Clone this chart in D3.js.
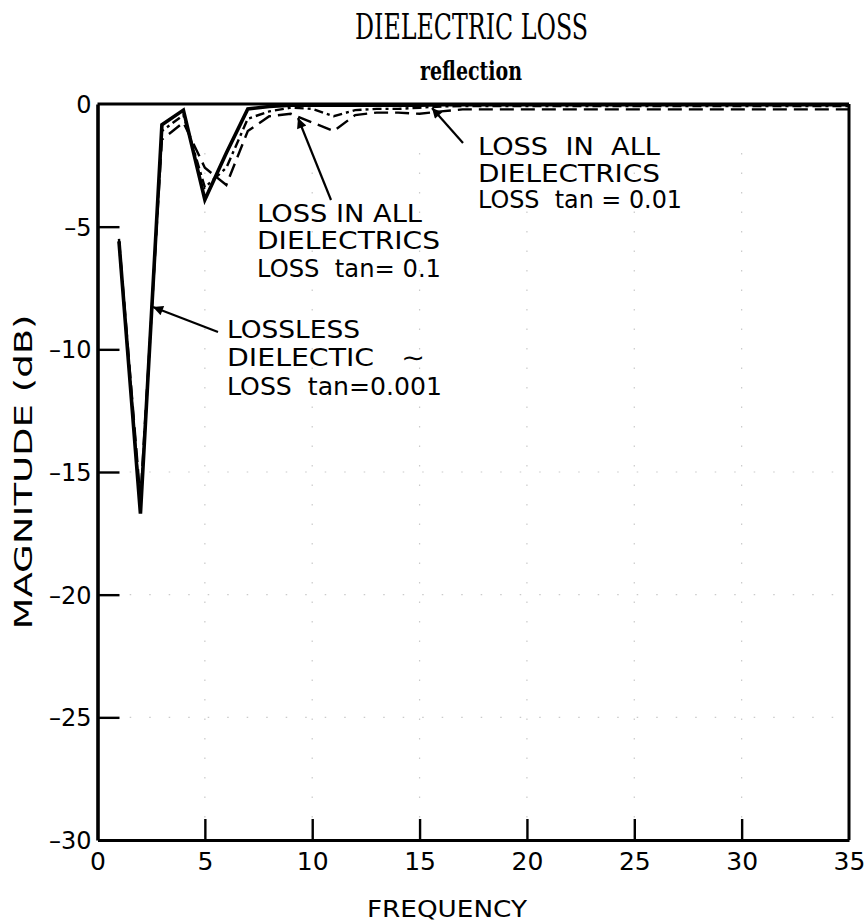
<!DOCTYPE html>
<html>
<head>
<meta charset="utf-8">
<script src="https://cdn.jsdelivr.net/npm/d3@7"></script>
<style>
  html, body { margin: 0; padding: 0; background: #fff; }
  svg { display: block; }
</style>
</head>
<body>
<svg id="chart" width="866" height="924"></svg>
<script>
// ---- data ----
const frequency = [1,2,3,4,5,6,7,8,9,10,11,12,13,14,15,16,17,18,19,20,21,22,23,24,25,26,27,28,29,30,31,32,33,34,35];
const losslessTan0001 = [-5.6,-16.7,-0.85,-0.25,-3.9,-2.0,-0.2,-0.1,-0.05,-0.05,-0.05,-0.05,-0.05,-0.05,-0.05,-0.03,-0.03,-0.03,-0.03,-0.03,-0.03,-0.03,-0.03,-0.03,-0.03,-0.03,-0.03,-0.03,-0.03,-0.03,-0.03,-0.03,-0.03,-0.03,-0.03];
const lossTan001 = [-5.6,-16.5,-1.1,-0.45,-3.4,-2.6,-0.6,-0.3,-0.15,-0.2,-0.5,-0.25,-0.2,-0.2,-0.15,-0.1,-0.08,-0.08,-0.08,-0.08,-0.08,-0.08,-0.08,-0.08,-0.08,-0.08,-0.08,-0.08,-0.08,-0.08,-0.08,-0.08,-0.08,-0.08,-0.08];
const lossTan01 = [-5.5,-16.1,-1.45,-0.75,-2.6,-3.3,-1.1,-0.5,-0.4,-0.75,-1.1,-0.45,-0.35,-0.35,-0.4,-0.3,-0.22,-0.22,-0.22,-0.22,-0.22,-0.22,-0.22,-0.22,-0.22,-0.22,-0.22,-0.22,-0.22,-0.22,-0.22,-0.22,-0.22,-0.22,-0.22];
const xTicks = [0,5,10,15,20,25,30,35];
const yTicks = [0,-5,-10,-15,-20,-25,-30];
const titleText = "DIELECTRIC LOSS";
const subtitleText = "reflection";
const xLabel = "FREQUENCY";
const yLabel = "MAGNITUDE (dB)";
const noteTan01 = ["LOSS IN ALL", "DIELECTRICS", "LOSS  tan= 0.1"];
const noteTan001 = ["LOSS  IN  ALL", "DIELECTRICS", "LOSS  tan = 0.01"];
const noteLossless = ["LOSSLESS", "DIELECTIC   \u223C", "LOSS  tan=0.001"];

// ---- layout ----
const svg = d3.select("#chart");
const L = 97.5, R = 849, T = 104, B = 840;
const x = d3.scaleLinear().domain([0, 35]).range([L, R]);
const y = d3.scaleLinear().domain([0, -30]).range([T, B]);
const ink = "#000";
const sans = "'DejaVu Sans', 'Noto Sans', sans-serif";

// faint dotted grid (scan residue)
const grid = svg.append("g").attr("stroke", "#a8a8a8").attr("stroke-width", 1.2)
  .attr("stroke-dasharray", "1.5,18").attr("opacity", 0.6);
xTicks.slice(1, -1).forEach(t => grid.append("line")
  .attr("x1", x(t)).attr("x2", x(t)).attr("y1", y(-2)).attr("y2", y(-30)));
yTicks.slice(3, -1).forEach(t => grid.append("line")
  .attr("x1", x(1.5)).attr("x2", x(35)).attr("y1", y(t)).attr("y2", y(t)));

// axes
const xAxis = d3.axisBottom(x).tickValues(xTicks).tickSizeInner(-21).tickSizeOuter(0).tickPadding(12)
  .tickFormat(d3.format("d"));
const gx = svg.append("g").attr("transform", `translate(0,${B})`).call(xAxis);
gx.select(".domain").attr("stroke", ink).attr("stroke-width", 3.2);
gx.selectAll(".tick line").attr("stroke", ink).attr("stroke-width", 2.4);
gx.selectAll(".tick text").attr("font-family", sans).attr("font-size", 25).attr("fill", ink);
gx.selectAll(".tick").filter(d => d === 0 || d === 35).select("line").remove();

const yAxis = d3.axisLeft(y).tickValues(yTicks).tickSizeInner(-22).tickSizeOuter(0).tickPadding(6)
  .tickFormat(d => d === 0 ? "0" : "\u2013" + Math.abs(d));
const gy = svg.append("g").attr("transform", `translate(${L},0)`).call(yAxis);
gy.select(".domain").attr("stroke", ink).attr("stroke-width", 3.6);
gy.selectAll(".tick line").attr("stroke", ink).attr("stroke-width", 2.4);
gy.selectAll(".tick text").attr("font-family", sans).attr("font-size", 24).attr("fill", ink)
  .attr("dy", "0.36em");
gy.selectAll(".tick").filter(d => d === 0 || d === -30).select("line").remove();

// frame top & right
svg.append("line").attr("x1", L).attr("x2", R).attr("y1", T).attr("y2", T)
  .attr("stroke", ink).attr("stroke-width", 3);
svg.append("line").attr("x1", R).attr("x2", R).attr("y1", T).attr("y2", B)
  .attr("stroke", ink).attr("stroke-width", 3);

// series
const line = d3.line().x((d, i) => x(frequency[i])).y(d => y(d));
const series = [
  { values: lossTan01, dash: "14,7", width: 2.4 },
  { values: lossTan001, dash: "9,4,3,4", width: 2.4 },
  { values: losslessTan0001, dash: null, width: 3.6 }
];
series.forEach(s => {
  svg.append("path").datum(s.values).attr("d", line)
    .attr("fill", "none").attr("stroke", ink).attr("stroke-width", s.width)
    .attr("stroke-linejoin", "miter").attr("stroke-dasharray", s.dash);
});

// arrows
const defs = svg.append("defs");
defs.append("marker").attr("id", "arr").attr("viewBox", "0 0 10 10").attr("refX", 10).attr("refY", 5)
  .attr("markerWidth", 18).attr("markerHeight", 10).attr("markerUnits", "userSpaceOnUse")
  .attr("orient", "auto")
  .append("path").attr("d", "M0,0 L10,5 L0,10 Z").attr("fill", ink);
const arrows = [
  [331, 200, 298, 118],
  [463, 143, 432, 108],
  [218, 332, 153, 307]
];
arrows.forEach(a => svg.append("line").attr("x1", a[0]).attr("y1", a[1]).attr("x2", a[2]).attr("y2", a[3])
  .attr("stroke", ink).attr("stroke-width", 2.2).attr("marker-end", "url(#arr)"));

// annotations
function note(lines, x0, baselines, widths) {
  lines.forEach((t, i) => svg.append("text").attr("x", x0).attr("y", baselines[i])
    .attr("font-family", sans).attr("font-size", 24).attr("fill", ink)
    .attr("textLength", widths[i]).attr("lengthAdjust", "spacingAndGlyphs")
    .style("white-space", "pre").text(t));
}
note(noteTan01, 257, [222, 249, 277], [165, 183, 184]);
note(noteTan001, 478, [155, 182, 208], [182, 182, 204]);
note(noteLossless, 227, [338, 366, 395], [133, 198, 215]);

// titles
svg.append("text").attr("x", 355).attr("y", 39)
  .attr("font-family", "'DejaVu Serif Condensed', 'Liberation Serif', serif").attr("font-size", 36)
  .attr("textLength", 233).attr("lengthAdjust", "spacingAndGlyphs").attr("fill", ink).text(titleText);
svg.append("text").attr("x", 420).attr("y", 80)
  .attr("font-family", "'DejaVu Serif Condensed', 'Liberation Serif', serif").attr("font-size", 26)
  .attr("font-weight", "bold")
  .attr("textLength", 102).attr("lengthAdjust", "spacingAndGlyphs").attr("fill", ink).text(subtitleText);

// axis titles
svg.append("text").attr("x", 367).attr("y", 917)
  .attr("font-family", sans).attr("font-size", 23).attr("fill", ink)
  .attr("textLength", 160).attr("lengthAdjust", "spacingAndGlyphs").text(xLabel);
svg.append("text").attr("transform", `translate(32,${472}) rotate(-90)`).attr("text-anchor", "middle")
  .attr("font-family", sans).attr("font-size", 24).attr("fill", ink)
  .attr("textLength", 315).attr("lengthAdjust", "spacingAndGlyphs").text(yLabel);
</script>
</body>
</html>
